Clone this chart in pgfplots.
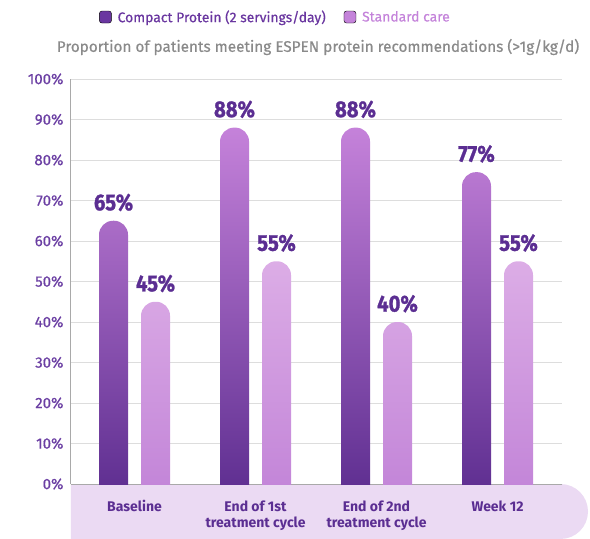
\documentclass[border=0pt]{standalone}
\usepackage{pgfplots}
\pgfplotsset{compat=1.18}
\usepackage{fontspec}
\setmainfont{Fira Sans}
\newfontfamily\firamed{Fira Sans}[FakeBold=0.6]
\newfontfamily\firablack{Fira Sans}[BoldFeatures={FakeBold=1.2}]
\definecolor{tickpurple}{HTML}{6B3FA3}
\definecolor{labpurple}{HTML}{5B2E92}
\definecolor{ctop}{HTML}{C582DA}
\definecolor{cmid}{HTML}{A062C0}
\definecolor{cbot}{HTML}{55278A}
\definecolor{stop}{HTML}{DCADE6}
\definecolor{sbot}{HTML}{BF7FD6}
\definecolor{leg1}{HTML}{6A37A0}
\definecolor{leg2}{HTML}{C483DA}
\definecolor{bandcol}{HTML}{EBDAF3}
\definecolor{gridgray}{HTML}{DDDDDD}
\definecolor{axisgray}{HTML}{A9A9A9}
\definecolor{titlegray}{HTML}{8A8A8A}
\begin{document}
\begin{tikzpicture}
\useasboundingbox (-71pt,-55pt) rectangle (519pt,484pt);
% bottom band
\fill[bandcol] (0pt,0pt) -- (489.5pt,0pt) arc[start angle=90,end angle=-90,radius=27.5pt] -- (0pt,-55pt) -- cycle;
\begin{axis}[
  scale only axis, width=491pt, height=405pt,
  xmin=-0.525, xmax=3.533, ymin=0, ymax=100,
  axis lines*=left,
  axis line style={axisgray, line width=1pt, -},
  ytick={0,10,...,100},
  ymajorgrids, grid style={gridgray, line width=0.9pt},
  major tick length=0pt,
  xtick={0,1,2,3},
  xticklabels={Baseline, End of 1st\\treatment cycle, End of 2nd\\treatment cycle, Week 12},
  xticklabel style={align=center, font=\bfseries\fontsize{14}{16}\selectfont, text=labpurple, yshift=-13pt},
  yticklabel={\pgfmathprintnumber[assume math mode=true]{\tick}\%},
  yticklabel style={font=\firamed\fontsize{15}{18}\selectfont, text=tickpurple, xshift=-4pt},
  legend columns=2,
  legend style={draw=none, fill=none, at={(0.4165,1.153)}, anchor=center,
    font=\firamed\fontsize{13.9}{16}\selectfont, /tikz/every even column/.append style={column sep=16pt}},
  legend cell align=left,
]
\addlegendimage{legend image code/.code={\fill[rounded corners=2.5pt] (-7pt,-6pt) rectangle (5pt,6pt); \path (9pt,0pt);}, fill=leg1}
\addlegendentry{\textcolor{leg1}{Compact Protein (2 servings/day)}}
\addlegendimage{legend image code/.code={\fill[rounded corners=2.5pt] (-7pt,-6pt) rectangle (5pt,6pt); \path (9pt,0pt);}, fill=leg2}
\addlegendentry{\textcolor{leg2}{Standard care}}
\end{axis}
\begin{scope}
\clip (0pt,0pt) rectangle (491pt,484pt);
\begin{axis}[
  at={(0pt,-40.5pt)}, anchor=south west,
  scale only axis, width=491pt, height=445.5pt,
  xmin=-0.525, xmax=3.533, ymin=0, ymax=110,
  hide axis, clip=false,
  nodes near coords={\scalebox{0.88}[1]{\pgfmathprintnumber[assume math mode=true]{\pgfplotspointmeta}\%}},
  every node near coord/.append style={font=\firablack\bfseries\fontsize{23}{27}\selectfont, text=labpurple, yshift=6pt},
]
\addplot[ybar, bar width=29pt, bar shift=-21pt, draw=none, top color=ctop, middle color=cmid, bottom color=cbot,
  rounded corners=14pt, y filter/.expression={y+10}, point meta=rawy,
  every node near coord/.append style={xshift=-21pt}]
  coordinates {(0,65) (1,88) (2,88) (3,77)};
\addplot[ybar, bar width=29pt, bar shift=21pt, draw=none, top color=stop, bottom color=sbot,
  rounded corners=14pt, y filter/.expression={y+10}, point meta=rawy,
  every node near coord/.append style={xshift=21pt}]
  coordinates {(0,45) (1,55) (2,40) (3,55)};
\end{axis}
\end{scope}
\node[font=\firamed\fontsize{15.3}{18}\selectfont, text=titlegray, anchor=center] at (247pt,437pt)
  {Proportion of patients meeting ESPEN protein recommendations (>1g/kg/d)};
\end{tikzpicture}
\end{document}
